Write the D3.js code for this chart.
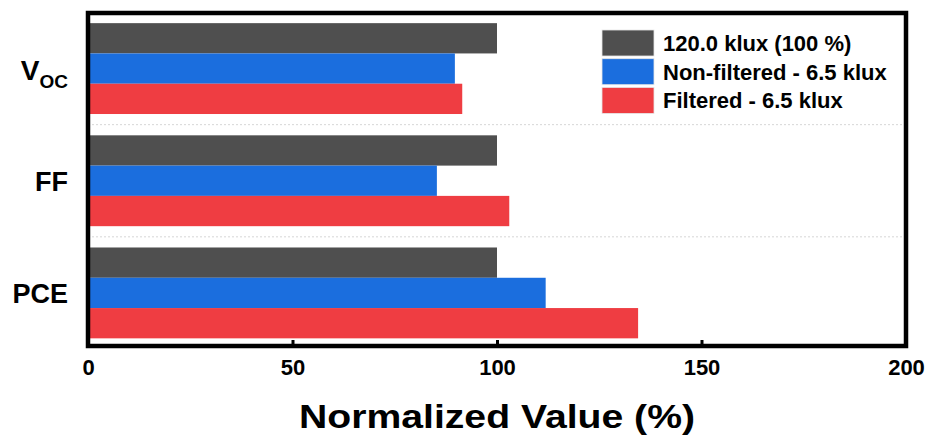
<!DOCTYPE html>
<html lang="en">
<head>
  <meta charset="UTF-8">
  <title>Normalized Value</title>
  <script src="https://d3js.org/d3.v7.min.js"></script>
  <style>
    * { margin: 0; padding: 0; box-sizing: border-box; }
    body { background: #fff; font-family: "Liberation Sans", Arial, sans-serif; }
    text { font-family: "Liberation Sans", Arial, sans-serif; font-weight: bold; fill: #000; }
  </style>
</head>
<body>
  <div id="chart"></div>

  <script>
    // data
    const categories = ["VOC", "FF", "PCE"];
    const seriesNames = ["120.0 klux (100 %)", "Non-filtered - 6.5 klux", "Filtered - 6.5 klux"];
    const ref120 = [100, 100, 100];
    const nonFiltered = [89.7, 85.3, 111.9];
    const filtered = [91.5, 103.0, 134.5];
    const xTicks = [0, 50, 100, 150, 200];

    const colors = ["#4f4f4f", "#1b6ede", "#ef3d42"];
    const seriesValues = [ref120, nonFiltered, filtered];

    const W = 930, H = 440;
    const plotL = 88, plotR = 906, plotT = 13, plotB = 346;

    const svg = d3.select("#chart").append("svg")
      .attr("width", W)
      .attr("height", H);

    const x = d3.scaleLinear().domain([0, 200]).range([plotL, plotR]);

    const y = d3.scaleBand()
      .domain(categories)
      .range([12.5, 349])
      .paddingInner(0.19)
      .paddingOuter(0.095);

    const ySub = d3.scaleBand()
      .domain(d3.range(seriesNames.length))
      .range([0, y.bandwidth()]);

    // dotted separators between groups
    const seps = categories.slice(0, -1).map(c => y(c) + y.bandwidth() + y.step() * y.paddingInner() / 2);
    svg.selectAll(".sep")
      .data(seps)
      .enter()
      .append("line")
      .attr("x1", plotL)
      .attr("x2", plotR)
      .attr("y1", d => d)
      .attr("y2", d => d)
      .attr("stroke", "#d6d6d6")
      .attr("stroke-width", 1)
      .attr("stroke-dasharray", "2,2");

    // bars
    const rows = [];
    categories.forEach((c, i) => {
      seriesValues.forEach((vals, s) => rows.push({ cat: c, s, v: vals[i] }));
    });

    svg.selectAll(".bar")
      .data(rows)
      .enter()
      .append("rect")
      .attr("class", "bar")
      .attr("x", x(0))
      .attr("y", d => y(d.cat) + ySub(d.s))
      .attr("width", d => x(d.v) - x(0))
      .attr("height", ySub.bandwidth())
      .attr("fill", d => colors[d.s]);

    // x axis: ticks pointing inward, no domain line
    const xAxis = svg.append("g")
      .attr("transform", `translate(0,${plotB})`)
      .call(d3.axisBottom(x).tickValues(xTicks).tickSizeInner(-6).tickSizeOuter(0).tickPadding(13));
    xAxis.select(".domain").remove();
    xAxis.selectAll("line").attr("stroke", "#000").attr("stroke-width", 3);
    xAxis.selectAll("text")
      .style("font-size", "22px")
      .style("font-weight", "bold")
      .attr("fill", "#000");

    // frame
    svg.append("rect")
      .attr("x", plotL)
      .attr("y", plotT)
      .attr("width", plotR - plotL)
      .attr("height", plotB - plotT)
      .attr("fill", "none")
      .attr("stroke", "#000")
      .attr("stroke-width", 4.5);

    // category labels
    const labelX = 68;
    categories.forEach(c => {
      const cy = y(c) + y.bandwidth() / 2;
      if (c === "VOC") {
        const t = svg.append("text")
          .attr("x", labelX)
          .attr("y", cy + 11)
          .attr("text-anchor", "end")
          .style("font-size", "28px");
        t.append("tspan").text("V");
        t.append("tspan")
          .attr("dy", 8)
          .style("font-size", "19px")
          .text("OC");
      } else {
        svg.append("text")
          .attr("x", labelX)
          .attr("y", cy + 10)
          .attr("text-anchor", "end")
          .style("font-size", "27px")
          .text(c);
      }
    });

    // x title
    svg.append("text")
      .attr("x", (plotL + plotR) / 2)
      .attr("y", 428)
      .attr("text-anchor", "middle")
      .attr("textLength", 396)
      .attr("lengthAdjust", "spacingAndGlyphs")
      .style("font-size", "34px")
      .text("Normalized Value (%)");

    // legend
    const legend = svg.append("g").attr("transform", "translate(602,30)");
    seriesNames.forEach((name, i) => {
      const g = legend.append("g").attr("transform", `translate(0,${i * 28.7})`);
      g.append("rect")
        .attr("width", 52)
        .attr("height", 26)
        .attr("fill", colors[i])
        .attr("stroke", "#e6e6e6")
        .attr("stroke-width", 0.8);
      g.append("text")
        .attr("x", 61)
        .attr("y", 21)
        .style("font-size", "22px")
        .text(name);
    });
  </script>
</body>
</html>
